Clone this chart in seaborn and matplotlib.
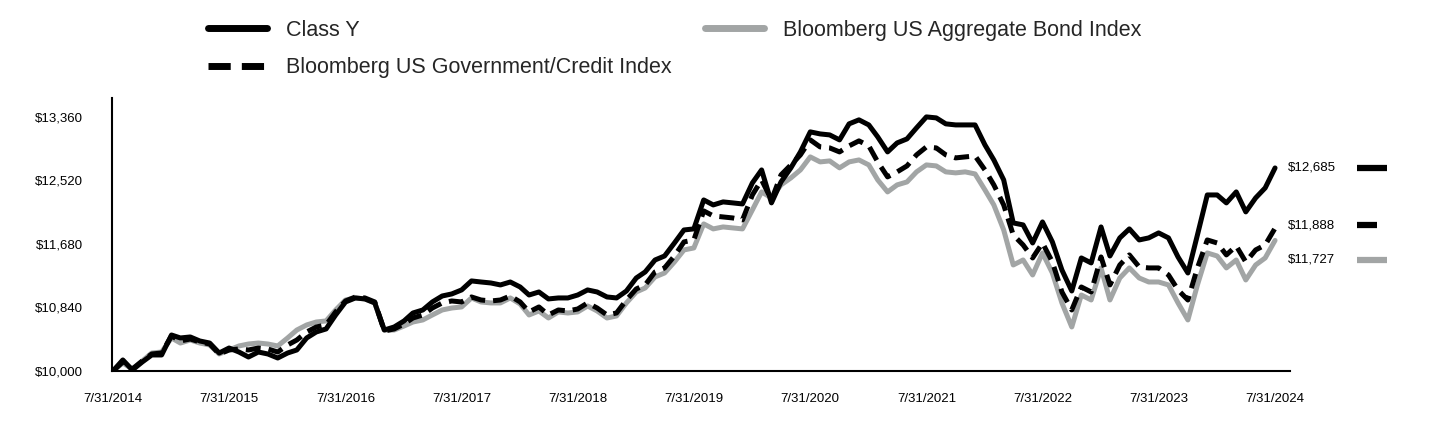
import pandas as pd
import seaborn as sns
import matplotlib.pyplot as plt
from matplotlib.lines import Line2D

# -----------------------------
# DATA (growth of $10,000, month ends)
# -----------------------------
start_date = "2014-07-31"

class_y = [
    10000, 10146, 10013, 10119, 10212, 10212, 10476, 10437, 10450, 10397, 10370, 10238, 10304,
    10251, 10185, 10251, 10225, 10172, 10238, 10278, 10437, 10516, 10556, 10741, 10913,
    10966, 10953, 10900, 10542, 10582, 10662, 10767, 10807, 10913, 10992, 11019, 11072,
    11191, 11177, 11164, 11138, 11177, 11111, 11005, 11045, 10953, 10966, 10966, 11005,
    11072, 11045, 10979, 10966, 11058, 11230, 11310, 11468, 11521, 11693, 11865, 11879,
    12262, 12196, 12236, 12223, 12209, 12487, 12659, 12223, 12500, 12686, 12897, 13162,
    13135, 13122, 13056, 13268, 13321, 13254, 13096, 12897, 13016, 13069, 13215, 13360,
    13347, 13268, 13254, 13254, 13254, 12990, 12791, 12527, 11958, 11932, 11693, 11971,
    11707, 11336, 11058, 11495, 11429, 11905, 11521, 11760, 11879, 11733, 11760, 11826,
    11760, 11508, 11296, 11799, 12328, 12328, 12223, 12368, 12104, 12289, 12421, 12685,
]

gov_credit = [
    10000, 10119, 10026, 10132, 10225, 10238, 10463, 10397, 10423, 10384, 10357, 10225, 10278,
    10291, 10278, 10304, 10291, 10251, 10344, 10410, 10516, 10582, 10609, 10781, 10926,
    10979, 10966, 10913, 10529, 10556, 10622, 10701, 10741, 10833, 10900, 10926, 10913,
    10979, 10939, 10926, 10939, 10992, 10913, 10781, 10847, 10741, 10807, 10794, 10820,
    10900, 10833, 10741, 10767, 10939, 11085, 11138, 11310, 11363, 11521, 11707, 11733,
    12117, 12051, 12037, 12024, 11998, 12328, 12527, 12262, 12593, 12725, 12858, 13056,
    12963, 12950, 12897, 12977, 13043, 12977, 12765, 12567, 12633, 12712, 12858, 12963,
    12950, 12858, 12818, 12831, 12844, 12659, 12461, 12196, 11799, 11667, 11495, 11693,
    11442, 11045, 10807, 11111, 11045, 11508, 11138, 11402, 11535, 11376, 11363, 11363,
    11270, 11072, 10939, 11363, 11733, 11693, 11535, 11654, 11442, 11601, 11667, 11888,
]

aggregate = [
    10000, 10106, 10026, 10132, 10238, 10251, 10437, 10370, 10410, 10370, 10344, 10225, 10278,
    10331, 10357, 10370, 10357, 10331, 10437, 10542, 10609, 10648, 10662, 10807, 10939,
    10966, 10953, 10900, 10542, 10542, 10595, 10648, 10675, 10741, 10807, 10833, 10847,
    10966, 10913, 10900, 10900, 10966, 10886, 10741, 10794, 10701, 10781, 10767, 10781,
    10860, 10794, 10701, 10728, 10900, 11045, 11098, 11244, 11296, 11442, 11601, 11627,
    11945, 11879, 11905, 11892, 11879, 12130, 12368, 12289, 12461, 12553, 12659, 12831,
    12765, 12778, 12686, 12765, 12791, 12725, 12527, 12368, 12461, 12500, 12633, 12725,
    12712, 12633, 12620, 12633, 12606, 12395, 12196, 11865, 11402, 11468, 11270, 11561,
    11296, 10900, 10582, 11005, 10939, 11363, 10939, 11230, 11363, 11230, 11177, 11177,
    11138, 10900, 10675, 11138, 11561, 11521, 11363, 11468, 11204, 11402, 11495, 11727,
]

y_ticks = [10000, 10840, 11680, 12520, 13360]

names = ["Class Y", "Bloomberg US Government/Credit Index", "Bloomberg US Aggregate Bond Index"]

# -----------------------------
# SETUP
# -----------------------------
sns.set_theme(style="white")
plt.rcParams['font.family'] = ['Liberation Sans', 'DejaVu Sans']

GRAY = "#a2a5a5"
LW = 3.6

dates = pd.date_range(start_date, periods=len(class_y), freq="ME")
df = pd.DataFrame({"Date": dates, names[0]: class_y, names[1]: gov_credit, names[2]: aggregate})

fig = plt.figure(figsize=(14.4, 4.32), dpi=100)
ax = fig.add_axes([112 / 1440, 61 / 432, 1178 / 1440, 273 / 432])

# gray first, black solid on top
sns.lineplot(data=df, x="Date", y=names[2], color=GRAY, lw=LW, ax=ax)
sns.lineplot(data=df, x="Date", y=names[1], color="black", lw=LW,
             linestyle=(0, (3, 1.6)), ax=ax)
sns.lineplot(data=df, x="Date", y=names[0], color="black", lw=LW, ax=ax)

# -----------------------------
# AXES
# -----------------------------
ax.set_xlim(dates[0] - pd.Timedelta(days=3), dates[-1] + pd.Timedelta(days=47))
ax.set_ylim(10000, 13610)

tick_dates = dates[::12]
ax.set_xticks(tick_dates)
ax.set_xticklabels([f"{d.month}/{d.day}/{d.year}" for d in tick_dates])
ax.set_yticks(y_ticks)
ax.set_yticklabels([f"${v:,}" for v in y_ticks])
ax.tick_params(axis="x", length=0, pad=16, labelsize=9.5, colors="black")
ax.tick_params(axis="y", length=0, pad=21, labelsize=9.5, colors="black")
ax.set_xlabel("")
ax.set_ylabel("")

for side in ["top", "right"]:
    ax.spines[side].set_visible(False)
for side in ["left", "bottom"]:
    ax.spines[side].set_color("black")
    ax.spines[side].set_linewidth(1.5)

# -----------------------------
# LEGEND
# -----------------------------
handles = [
    Line2D([], [], color="black", lw=5),
    Line2D([], [], color="black", lw=5, linestyle=(0, (3.2, 1.6))),
    Line2D([], [], color=GRAY, lw=5),
]
fig.legend(handles, names, loc="upper left", bbox_to_anchor=(208 / 1440, 1 - 20 / 432),
           ncol=2, frameon=False, fontsize=15.5, handlelength=2.75, handletextpad=0.87,
           columnspacing=1.55, labelspacing=0.75, borderpad=0, borderaxespad=0)

# -----------------------------
# END VALUE LABELS (right side)
# -----------------------------
end_labels = [
    (class_y[-1], 168, dict(color="black", lw=4.5), 1387),
    (gov_credit[-1], 225, dict(color="black", lw=4.5), 1377),
    (aggregate[-1], 260, dict(color=GRAY, lw=4.5), 1387),
]
for val, ypix, style, x_end in end_labels:
    yf = 1 - ypix / 432
    fig.text(1288 / 1440, yf, f"${val:,}", ha="left", va="center", fontsize=9.5, color="black")
    fig.add_artist(Line2D([1357 / 1440, x_end / 1440], [yf, yf], solid_capstyle="butt", **style))

plt.savefig("out.png", dpi=100, facecolor="white")
plt.close()
